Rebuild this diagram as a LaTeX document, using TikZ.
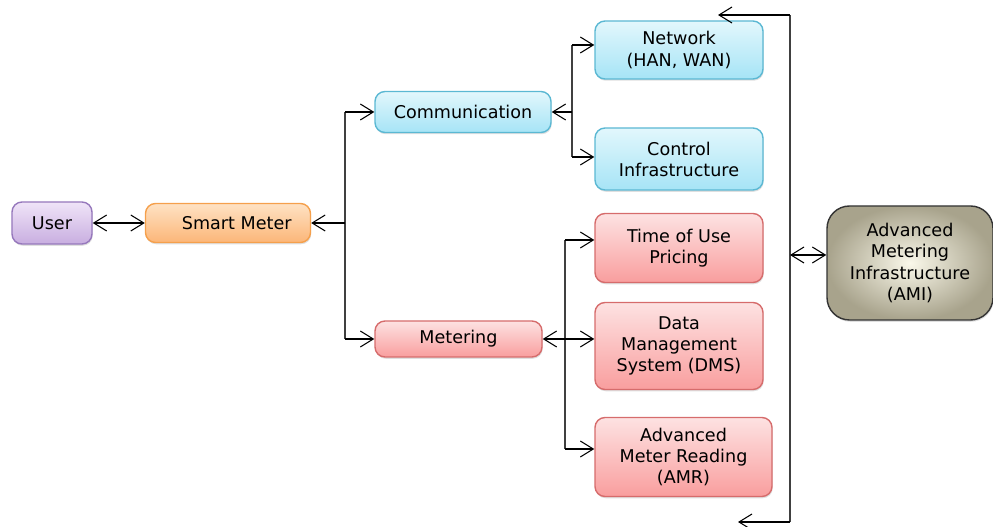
\documentclass[tikz,border=0pt]{standalone}
\usepackage{fontspec}
\setmainfont{DejaVu Sans}
\usepackage{tikz}
\usetikzlibrary{arrows.meta,shapes,positioning,shadows}
\usepackage{xcolor}
\definecolor{smblue}{RGB}{91,184,211}
\definecolor{smbluetop}{RGB}{226,247,252}
\definecolor{smbluebot}{RGB}{166,228,246}
\definecolor{smred}{RGB}{214,108,108}
\definecolor{smredtop}{RGB}{253,226,226}
\definecolor{smredbot}{RGB}{249,158,158}
\definecolor{smorange}{RGB}{245,160,76}
\definecolor{smorangetop}{RGB}{254,226,196}
\definecolor{smorangebot}{RGB}{252,182,120}
\definecolor{smpurple}{RGB}{150,120,188}
\definecolor{smpurpletop}{RGB}{240,228,248}
\definecolor{smpurplebot}{RGB}{200,174,224}
\definecolor{amiin}{RGB}{250,248,234}
\definecolor{amiout}{RGB}{168,163,140}
\tikzstyle{link} = [line width=0.9pt, color=black!75]
\tikzstyle{arrow} = [line width=0.6pt, color=black, -{Straight Barb[length=2.6mm,width=3.2mm]}]
\tikzstyle{biarrow} = [line width=0.6pt, color=black, {Straight Barb[length=2.6mm,width=3.2mm]}-{Straight Barb[length=2.6mm,width=3.2mm]}]
\tikzstyle{meterbox} = [rectangle, rounded corners=0.2cm, text centered, align=center, thick, font=\fontsize{10}{12}\selectfont, drop shadow={opacity=0.25, shadow xshift=0.4pt, shadow yshift=-1pt}]
\tikzstyle{bluebox} = [meterbox, draw=smblue, top color=smbluetop, bottom color=smbluebot]
\tikzstyle{redbox} = [meterbox, draw=smred, top color=smredtop, bottom color=smredbot]

\begin{document}
\begin{tikzpicture}
\useasboundingbox (0,0) rectangle (19.86,10.54);
% Left side
\node (user) [meterbox, draw=smpurple, top color=smpurpletop, bottom color=smpurplebot, minimum width=1.6cm, minimum height=0.84cm] at (1.04,6.08) {User};
\node (smart) [meterbox, right of=user, node distance=3.52cm, draw=smorange, top color=smorangetop, bottom color=smorangebot, minimum width=3.3cm, minimum height=0.78cm] {\hspace*{0.35cm}Smart Meter};
\node (comm) [bluebox, minimum width=3.52cm, minimum height=0.82cm] at (9.26,8.30) {Communication};
\node (meter) [redbox, minimum width=3.34cm, minimum height=0.72cm] at (9.17,3.76) {Metering};

% Right column
\node (network) [bluebox, minimum width=3.36cm, minimum height=1.16cm] at (13.58,9.54) {Network\\(HAN, WAN)};
\node (control) [bluebox, below of=network, node distance=2.18cm, minimum width=3.36cm, minimum height=1.24cm] {Control\\Infrastructure};
\node (tou) [redbox, below of=control, node distance=1.78cm, minimum width=3.36cm, minimum height=1.38cm] {Time of Use\\Pricing};
\node (dms) [redbox, below of=tou, node distance=1.96cm, minimum width=3.36cm, minimum height=1.74cm] {Data\\Management\\System (DMS)};
\node (amr) [redbox, below of=dms, node distance=2.22cm, xshift=0.09cm, minimum width=3.54cm, minimum height=1.58cm] {Advanced\\Meter Reading\\(AMR)};
\node (ami) [meterbox, rounded corners=0.45cm, draw=black!80, line width=0.8pt, inner color=amiin, outer color=amiout, minimum width=3.32cm, minimum height=2.28cm] at (18.2,5.28) {Advanced\\Metering\\Infrastructure\\(AMI)};

% Entry points
\coordinate (netin) at ([yshift=0.1cm]network.west);
\coordinate (ctlin) at ([yshift=0.04cm]control.west);
\coordinate (touin) at ([yshift=0.16cm]tou.west);
\coordinate (amrin) at ([yshift=0.16cm]amr.west);
\coordinate (amiin) at ([yshift=0.16cm]ami.west);

% Buses
\coordinate (busa) at (6.90,0);
\coordinate (busb) at (11.44,0);
\coordinate (busc) at (11.30,0);
\coordinate (rtop) at (15.80,10.24);
\coordinate (rbot) at (15.80,0.10);
\coordinate (topend) at (14.36,10.24);
\coordinate (botend) at (14.76,0.10);

\draw[biarrow] (user.east) -- (smart.west);
\draw[link] (busa |- comm.west) -- (busa |- meter.west);
\draw[arrow] (busa |- smart.east) -- (smart.east);
\draw[arrow] (busa |- comm.west) -- (comm.west);
\draw[arrow] (busa |- meter.west) -- (meter.west);

\draw[link] (busb |- netin) -- (busb |- ctlin);
\draw[arrow] (busb |- comm.east) -- (comm.east);
\draw[arrow] (busb |- netin) -- (netin);
\draw[arrow] (busb |- ctlin) -- (ctlin);

\draw[link] (busc |- touin) -- (busc |- amrin);
\draw[arrow] (busc |- meter.east) -- (meter.east);
\draw[arrow] (busc |- touin) -- (touin);
\draw[arrow] (busc |- meter.east) -- (dms.west |- meter.east);
\draw[arrow] (busc |- amrin) -- (amrin);

\draw[link] (rbot) -- (rtop);
\draw[arrow] (rtop) -- (topend);
\draw[arrow] (rbot) -- (botend);
\draw[biarrow] (rtop |- amiin) -- (amiin);
\end{tikzpicture}
\end{document}
